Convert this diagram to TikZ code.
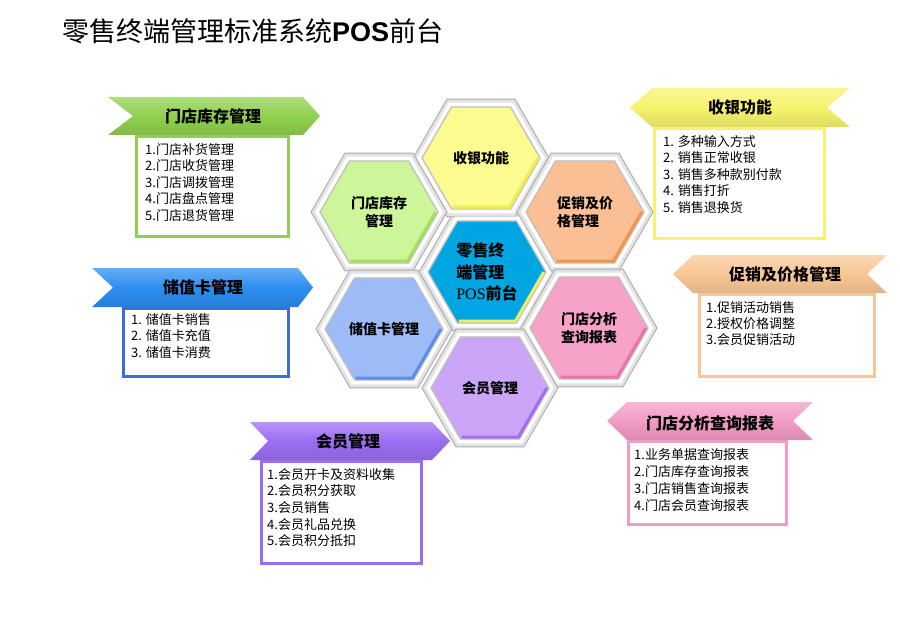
\documentclass[tikz,border=0pt]{standalone}
\usepackage{fontspec}
\setmainfont{Noto Sans CJK SC}
\newfontfamily\latb{Liberation Sans}
\newfontfamily\serf{Liberation Serif}
\usetikzlibrary{shapes.geometric,calc}
\definecolor{hgreen}{HTML}{CDF59A}
\definecolor{sgreen}{HTML}{A3E05A}
\definecolor{hyel}{HTML}{FBFB90}
\definecolor{syel}{HTML}{F2EE50}
\definecolor{hora}{HTML}{FBBF95}
\definecolor{sora}{HTML}{F5934A}
\definecolor{hblue}{HTML}{9DBBF7}
\definecolor{sblue}{HTML}{5C8CEE}
\definecolor{hpink}{HTML}{F7A3C8}
\definecolor{spink}{HTML}{EE72AA}
\definecolor{hpurp}{HTML}{CBA5F7}
\definecolor{spurp}{HTML}{A56DF0}
\definecolor{hcen}{HTML}{00A6E2}
\definecolor{scen}{HTML}{EEEE66}
\definecolor{bgreen}{HTML}{8FD04E}
\definecolor{byel}{HTML}{F7F36C}
\definecolor{bora}{HTML}{F9C795}
\definecolor{bpink}{HTML}{F29BC6}
\definecolor{bpurp}{HTML}{9C6DF2}
\definecolor{bblue}{HTML}{2C8DF0}
\definecolor{kblue}{HTML}{3F6BE0}
\tikzset{
  frame/.style={regular polygon, regular polygon sides=6, minimum size=136pt, inner sep=0pt, fill=gray!22, draw=gray!65, line width=0.9pt},
  rim/.style={regular polygon, regular polygon sides=6, minimum size=128pt, inner sep=0pt, fill=white},
  hexa/.style={regular polygon, regular polygon sides=6, minimum size=118pt, inner sep=0pt, fill=#1, draw=gray!50, line width=1.3pt, font=\fontsize{14}{18}\selectfont\bfseries},
  stripe/.style={draw=#1, line width=3pt, line join=round},
  ribbon/.style={top color=#1!72!white, bottom color=#1!90!black, middle color=#1},
  box/.style={draw=#1, line width=2.6pt, fill=white, inner sep=0pt, anchor=north west},
  head/.style={font=\fontsize{16}{16}\selectfont\bfseries, inner sep=0pt},
  list/.style={anchor=north west, inner sep=0pt, align=left, font=\fontsize{13}{#1}\selectfont},
  list/.default=16.5
}
\newcommand\ribR[7]{\path[ribbon=#1] (#2,#4) -- (#3,#4) -- ({#3+#7},{(#4+#5)/2}) -- (#3,#5) -- (#2,#5) -- ({#2+#6},{(#4+#5)/2}) -- cycle;}
\newcommand\ribL[7]{\path[ribbon=#1] (#2,#4) -- (#3,#4) -- ({#3-#7},{(#4+#5)/2}) -- (#3,#5) -- (#2,#5) -- ({#2-#6},{(#4+#5)/2}) -- cycle;}
\newcommand\hexstripe[2]{\draw[stripe=#2] ($(#1.corner 6)!3pt!(#1.center)$) -- ($(#1.corner 5)!3pt!(#1.center)$) -- ($(#1.corner 4)!3pt!(#1.center)$);}
\begin{document}
\begin{tikzpicture}[x=1pt,y=-1pt]
\useasboundingbox[fill=white] (0,0) rectangle (900,623);
% title
\node[anchor=base west, inner sep=0pt, font=\fontsize{27}{27}\selectfont] (title) at (62,42) {零售终端管理标准系统{\latb\bfseries POS}前台};
% hexagon frames
\node[frame] (f0) at (487,272) {};
\node[frame] (f1) at (481,158) {};
\node[frame] (f2) at (379,212) {};
\node[frame] (f3) at (585,212) {};
\node[frame] (f4) at (384,329) {};
\node[frame] (f5) at (589,328) {};
\node[frame] (f6) at (490,388) {};
\node[rim] (r0) at (487,272) {};
\node[rim] (r1) at (481,158) {};
\node[rim] (r2) at (379,212) {};
\node[rim] (r3) at (585,212) {};
\node[rim] (r4) at (384,329) {};
\node[rim] (r5) at (589,328) {};
\node[rim] (r6) at (490,388) {};
% hexagons
\node[hexa=hcen, align=left, font=\fontsize{16}{21.5}\selectfont\bfseries] (h0) at (487,272) {零售终\\端管理\\{\serf\mdseries POS}前台};
\node[hexa=hyel] (h1) at (481,158) {收银功能};
\node[hexa=hgreen, align=center] (h2) at (379,212) {门店库存\\管理};
\node[hexa=hora, align=left] (h3) at (585,212) {促销及价\\格管理};
\node[hexa=hblue] (h4) at (384,329) {储值卡管理};
\node[hexa=hpink, align=left] (h5) at (589,328) {门店分析\\查询报表};
\node[hexa=hpurp] (h6) at (490,388) {会员管理};
\hexstripe{h0}{scen}
\hexstripe{h1}{syel}
\hexstripe{h2}{sgreen}
\hexstripe{h3}{sora}
\hexstripe{h4}{sblue}
\hexstripe{h5}{spink}
\hexstripe{h6}{spurp}
% green: 门店库存管理
\node[box=bgreen, minimum width=152pt, minimum height=100pt] (gbox) at (135,135) {};
\ribR{bgreen}{108}{303}{97}{135}{25}{17}
\node[head] (ghead) at (213,116) {门店库存管理};
\node[list] (glist) at (145,143) {1.门店补货管理\\2.门店收货管理\\3.门店调拨管理\\4.门店盘点管理\\5.门店退货管理};
% blue: 储值卡管理
\node[box=kblue, minimum width=165pt, minimum height=68pt] (bbox) at (122,307) {};
\ribR{bblue}{92}{298}{268}{307}{21}{15}
\node[head] (bhead) at (203,287) {储值卡管理};
\node[list] (blist) at (131,313) {1. 储值卡销售\\2. 储值卡充值\\3. 储值卡消费};
% purple: 会员管理
\node[box=bpurp, minimum width=160pt, minimum height=102pt] (pbox) at (260,460) {};
\ribR{bpurp}{250}{432}{422}{460}{18}{18}
\node[head] (phead) at (348,441) {会员管理};
\node[list=16.7] (plist) at (267,468) {1.会员开卡及资料收集\\2.会员积分获取\\3.会员销售\\4.会员礼品兑换\\5.会员积分抵扣};
% yellow: 收银功能
\node[box=byel, minimum width=170pt, minimum height=110pt] (ybox) at (653,127) {};
\ribL{byel}{652}{850}{88}{127}{22}{23}
\node[head] (yhead) at (740,107) {收银功能};
\node[list] (ylist) at (663,135) {1. 多种输入方式\\2. 销售正常收银\\3. 销售多种款别付款\\4. 销售打折\\5. 销售退换货};
% orange: 促销及价格管理
\node[box=bora, minimum width=175pt, minimum height=82pt] (obox) at (698,293) {};
\ribL{bora}{693}{887}{255}{293}{20}{20}
\node[head] (ohead) at (785,274) {促销及价格管理};
\node[list=16] (olist) at (706,301) {1.促销活动销售\\2.授权价格调整\\3.会员促销活动};
% pink: 门店分析查询报表
\node[box=bpink, minimum width=158pt, minimum height=83pt] (kbox) at (627,440) {};
\ribL{bpink}{627}{813}{402}{440}{20}{20}
\node[head] (khead) at (710,423) {门店分析查询报表};
\node[list=17] (klist) at (634,448) {1.业务单据查询报表\\2.门店库存查询报表\\3.门店销售查询报表\\4.门店会员查询报表};
\end{tikzpicture}
\end{document}
